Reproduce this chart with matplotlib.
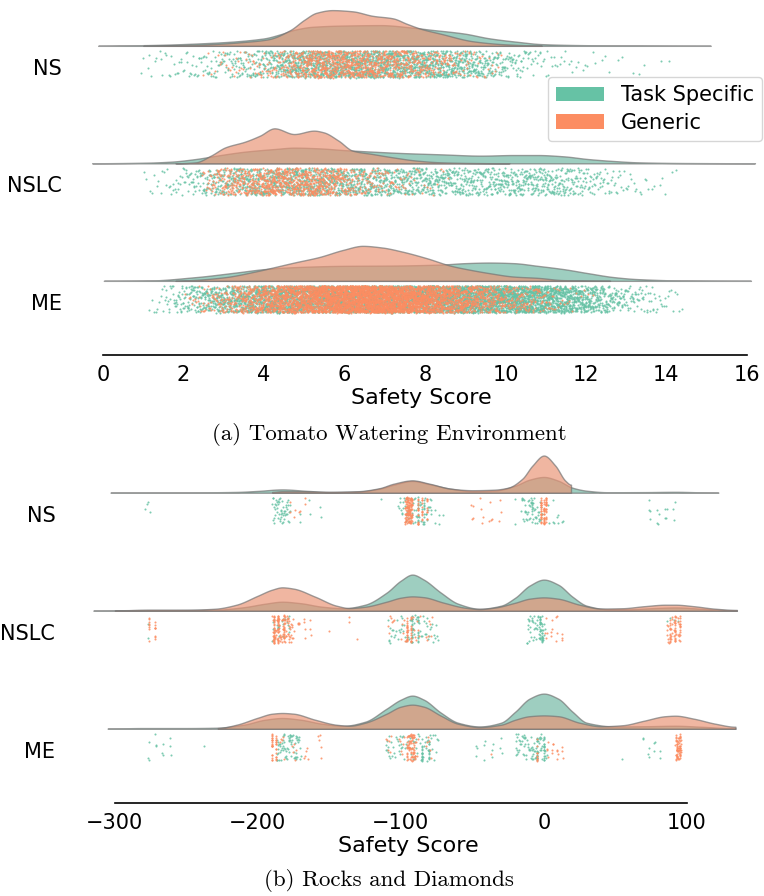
import numpy as np
import matplotlib
matplotlib.use("Agg")
import matplotlib.pyplot as plt
from matplotlib.patches import Patch

GROUPS = ["NS", "NSLC", "ME"]
HUES = ["Task Specific", "Generic"]
POINT_COLORS = ["#66c2a5", "#fc8d62"]
VIOLIN_COLORS = ["#70b7a2", "#e99475"]

# ---- (a) Tomato Watering: violin outlines, (score, height)
tomato_ns_task = [(-0.12, 0.1), (1.05, 0.7), (2.7, 3), (3.98, 7.3), (4.42, 11.7), (4.75, 16),
                  (5.2, 19), (6.0, 20.3), (6.9, 20.7), (7.67, 18.3), (8.1, 16.3), (8.97, 12.3),
                  (9.6, 7.5), (10.3, 4), (10.9, 1.7), (11.9, 0.7), (13.0, 0.3), (15.1, 0.1)]
tomato_ns_gen = [(1.0, 0.05), (1.6, 0.3), (2.7, 1.7), (3.55, 4), (4.1, 6.5), (4.65, 15.7),
                 (5.0, 26), (5.3, 33), (5.7, 35.7), (6.2, 34.5), (6.7, 30), (7.2, 27.5),
                 (7.55, 22), (7.9, 17), (8.4, 12), (9.2, 4.5), (10.0, 1.5), (10.9, 0.3)]
tomato_nslc_task = [(-0.27, 0.1), (1.1, 0.7), (1.7, 1.7), (2.3, 4.3), (2.92, 8.3), (3.53, 11.7),
                    (4.26, 14.3), (4.75, 15.7), (5.36, 15), (5.97, 13.3), (6.7, 11.7), (7.43, 10.3),
                    (8.4, 9), (9.4, 7.7), (10.2, 8.3), (10.8, 8.3), (11.45, 7), (12.05, 4.3),
                    (12.7, 2.3), (13.3, 1), (14.5, 0.3), (16.2, 0.1)]
tomato_nslc_gen = [(1.8, 0.05), (2.3, 1), (2.68, 7.7), (3.04, 16), (3.53, 21.7), (3.9, 27.7),
                   (4.26, 35), (4.75, 29.3), (5.24, 32.7), (5.48, 31), (5.85, 22.7), (6.2, 12.7),
                   (6.7, 9.3), (7.2, 6), (7.8, 2.7), (8.4, 1), (9.2, 0.3), (10.1, 0.05)]
tomato_me_task = [(0.02, 0.1), (1.1, 0.3), (2.3, 3.7), (3.3, 8.3), (4.0, 11.7), (4.75, 13.7),
                  (5.97, 15), (7.2, 15.3), (8.4, 16.3), (9.0, 17.7), (9.6, 18.3), (10.2, 17.7),
                  (10.8, 15), (11.45, 11.7), (12.05, 7.7), (12.7, 3.7), (13.3, 1.7), (14.5, 0.3),
                  (16.1, 0.1)]
tomato_me_gen = [(1.8, 0.05), (2.3, 1), (3.04, 3.7), (3.78, 9.3), (4.26, 13.7), (4.75, 18.3),
                 (5.36, 23.7), (5.97, 31), (6.45, 35), (6.94, 33.3), (7.43, 29.3), (8.04, 22.7),
                 (8.65, 15), (9.13, 11), (9.6, 7.7), (10.2, 4.3), (10.8, 3), (11.45, 0.7), (12.6, 0.05)]
# number of episodes per strip and the observed score range (min, max)
tomato_counts = {"NS": (2000, 1000), "NSLC": (2000, 900), "ME": (6000, 4500)}
tomato_ranges = {"NS": ((0.8, 14.2), (2.4, 9.9)), "NSLC": ((0.9, 14.3), (2.4, 8.6)),
                 "ME": ((1.0, 14.4), (1.5, 12.2))}

# ---- (b) Rocks and Diamonds: violin outlines, (score, height)
rocks_ns_task = [(-303, 0.2), (-250, 0.3), (-215, 0.8), (-200, 1.8), (-183, 3.3), (-165, 1.8),
                 (-150, 0.8), (-130, 1.2), (-115, 4), (-105, 8), (-92, 11.7), (-80, 8.5),
                 (-65, 4), (-50, 1.5), (-35, 2), (-20, 7), (-10, 13), (0, 15.7), (10, 12),
                 (20, 5), (30, 2), (45, 0.5), (70, 0.6), (92, 0.9), (110, 0.4), (122, 0.2)]
rocks_ns_gen = [(-190, 0.8), (-183, 1.5), (-170, 1.5), (-150, 0.8), (-130, 1.5), (-115, 4.5),
                (-105, 9), (-92, 12.3), (-80, 9), (-65, 4), (-50, 2.5), (-35, 3), (-25, 5),
                (-15, 14), (-8, 27), (0, 37), (8, 27), (15, 12), (19, 8)]
rocks_nslc_task = [(-315, 0.2), (-280, 0.7), (-260, 0.7), (-230, 1), (-210, 3.5), (-195, 7),
                   (-183, 9), (-170, 7.5), (-155, 4), (-140, 2.5), (-125, 6), (-110, 18),
                   (-100, 30), (-92, 36), (-84, 31), (-72, 18), (-60, 7), (-45, 2), (-30, 5),
                   (-20, 13), (-10, 25), (0, 31), (10, 26), (20, 14), (30, 5), (45, 1.5),
                   (60, 1.5), (75, 2.5), (92, 3.3), (110, 2), (125, 0.7), (135, 0.3)]
rocks_nslc_gen = [(-300, 0.3), (-275, 1), (-250, 1), (-230, 2), (-215, 6), (-200, 15), (-190, 21),
                  (-183, 23.3), (-175, 22), (-160, 14), (-145, 5), (-136, 2.7), (-125, 4),
                  (-110, 9), (-100, 13), (-92, 14.3), (-84, 13.5), (-70, 8), (-55, 3), (-45, 1.7),
                  (-35, 3), (-20, 8), (-10, 12), (0, 13.3), (10, 12), (25, 6), (40, 2.2),
                  (55, 2.5), (70, 4.5), (85, 6), (92, 6), (105, 4.5), (120, 2), (135, 0.8)]
rocks_me_task = [(-305, 0.3), (-280, 0.7), (-250, 0.7), (-230, 1), (-210, 4), (-195, 9),
                 (-183, 10.7), (-170, 9), (-155, 5), (-140, 3), (-125, 7), (-110, 20), (-100, 29),
                 (-92, 33), (-84, 29), (-72, 16), (-60, 6), (-45, 2.3), (-30, 6), (-20, 17),
                 (-10, 30), (0, 35), (10, 30), (20, 17), (30, 6), (50, 2.3), (70, 2.5), (92, 3),
                 (110, 2), (134, 0.5)]
rocks_me_gen = [(-228, 0.7), (-215, 4), (-200, 11), (-190, 15), (-183, 15.7), (-175, 15),
                (-160, 9), (-145, 4), (-136, 3), (-125, 6), (-110, 15), (-100, 22), (-92, 24),
                (-84, 22), (-72, 13), (-60, 5), (-45, 1.7), (-30, 4), (-20, 9), (-10, 12.5),
                (0, 13.3), (10, 12.5), (25, 6), (40, 2.5), (55, 3.5), (70, 8), (85, 12.5),
                (92, 13), (105, 10), (120, 5), (134, 2)]

# rocks scores seen in the strips: (low, high, count)
rocks_ns_task_pts = [(-279, -274, 4), (-190, -178, 50), (-178, -150, 8), (-114, -114, 1),
                     (-102, -79, 55), (-88, -88, 10), (-84, -84, 8), (-79, -68, 7),
                     (-21, -19, 2), (-16, -1, 50), (-8, -8, 8), (3, 16, 10), (73, 96, 15)]
rocks_ns_gen_pts = [(-178, -164, 8), (-97, -92, 120), (-88, -88, 15), (-85, -85, 12),
                    (-82, -82, 10), (-51, -25, 15), (-2, -2, 25), (0, 0, 25), (1.5, 1.5, 20)]
rocks_nslc_task_pts = [(-277, -277, 2), (-190, -176, 25), (-109, -74, 60), (-92, -92, 15),
                       (-88, -88, 12), (-12, 1, 45), (-3, -3, 15), (-1, -1, 12), (86, 96, 4)]
rocks_nslc_gen_pts = [(-276, -276, 8), (-272, -272, 8), (-190, -176, 80), (-189, -189, 20),
                      (-186, -186, 20), (-182, -182, 15), (-176, -160, 15), (-150, -150, 1),
                      (-136, -136, 2), (-131, -131, 1), (-109, -74, 30), (-96, -96, 20),
                      (-93, -93, 15), (1, 16, 15), (86, 96, 30), (88, 88, 12), (92, 92, 15),
                      (95, 95, 12)]
rocks_me_task_pts = [(-277, -257, 12), (-238, -238, 1), (-187, -170, 70), (-111, -74, 70),
                     (-85, -85, 15), (-80, -80, 12), (-48, -25, 12), (-20, 2, 70), (-5, -5, 15),
                     (0, 0, 15), (55, 55, 1), (69, 85, 10)]
rocks_me_gen_pts = [(-190, -190, 20), (-187, -187, 15), (-185, -150, 20), (-96, -90, 70),
                    (-111, -74, 25), (-37, -37, 1), (-5, -5, 10), (2, 16, 15), (92, 96, 45),
                    (93, 93, 12), (95, 95, 12)]

A1 = 0.7548776662  # low-discrepancy spread for scores inside a bin
BASE = -0.18       # violin baseline relative to category
STRIP = (-0.14, 0.09)
HSCALE = 1 / 117.5


def pchip(x, y, xn):
    x = np.asarray(x, float)
    y = np.asarray(y, float)
    h = np.diff(x)
    d = np.diff(y) / h
    m = np.zeros_like(y)
    for k in range(1, len(x) - 1):
        if d[k - 1] * d[k] > 0:
            w1, w2 = 2 * h[k] + h[k - 1], h[k] + 2 * h[k - 1]
            m[k] = (w1 + w2) / (w1 / d[k - 1] + w2 / d[k])
    i = np.clip(np.searchsorted(x, xn) - 1, 0, len(h) - 1)
    t = (xn - x[i]) / h[i]
    return ((2 * t**3 - 3 * t**2 + 1) * y[i] + (t**3 - 2 * t**2 + t) * h[i] * m[i]
            + (-2 * t**3 + 3 * t**2) * y[i + 1] + (t**3 - t**2) * h[i] * m[i + 1])


def curve(pairs):
    x, d = zip(*pairs)
    xf = np.linspace(x[0], x[-1], 600)
    return xf, np.clip(pchip(x, d, xf), 0, None)


def jitter(n, seed=0.0):
    # hash-style jitter of the strip positions (positions only, no data)
    k = np.arange(n) + seed
    f = np.abs(np.sin(k * 12.9898 + 78.233) * 43758.5453) % 1.0
    return STRIP[0] + (STRIP[1] - STRIP[0]) * f


def draw_violin(ax, pairs, c, color):
    xf, df = curve(pairs)
    base = c + BASE
    ax.fill_between(xf, base, base - df * HSCALE, facecolor=color, alpha=0.68,
                    edgecolor="0.45", linewidth=1.0, zorder=2)


def seg_values(segs):
    vals = []
    for lo, hi, n in segs:
        k = np.arange(n)
        vals.append(lo + (hi - lo) * ((0.5 + k * A1) % 1.0))
    return np.concatenate(vals)


fig = plt.figure(figsize=(7.64, 8.96), dpi=100)
W, H = 764, 896
ax_a = fig.add_axes([78.9 / W, 1 - 355 / H, (763 - 78.9) / W, 355 / H])
ax_b = fig.add_axes([72 / W, 1 - 803 / H, 672 / W, 353 / H])

# (a)
tomato = {"NS": (tomato_ns_task, tomato_ns_gen), "NSLC": (tomato_nslc_task, tomato_nslc_gen),
          "ME": (tomato_me_task, tomato_me_gen)}
for c, g in enumerate(GROUPS):
    for h in range(2):
        draw_violin(ax_a, tomato[g][h], c, VIOLIN_COLORS[h])
for h in range(2):
    for c, g in enumerate(GROUPS):
        n = tomato_counts[g][h]
        lo, hi = tomato_ranges[g][h]
        xf, df = curve(tomato[g][h])
        keep = (xf >= lo) & (xf <= hi)
        xf, df = xf[keep], df[keep]
        cdf = np.cumsum(df)
        cdf = (cdf - cdf[0]) / (cdf[-1] - cdf[0])
        u = (0.5 + np.arange(n) * A1) % 1.0
        vals = np.interp(u, cdf, xf)
        ax_a.scatter(vals, c + jitter(n, 1000 * c + 7 * h), s=2.2, color=POINT_COLORS[h],
                     linewidths=0, alpha=0.85, zorder=3)

# (b)
rocks = {"NS": (rocks_ns_task, rocks_ns_gen), "NSLC": (rocks_nslc_task, rocks_nslc_gen),
         "ME": (rocks_me_task, rocks_me_gen)}
rocks_pts = {"NS": (rocks_ns_task_pts, rocks_ns_gen_pts),
             "NSLC": (rocks_nslc_task_pts, rocks_nslc_gen_pts),
             "ME": (rocks_me_task_pts, rocks_me_gen_pts)}
for c, g in enumerate(GROUPS):
    for h in range(2):
        draw_violin(ax_b, rocks[g][h], c, VIOLIN_COLORS[h])
for h in range(2):
    for c, g in enumerate(GROUPS):
        vals = seg_values(rocks_pts[g][h])
        ax_b.scatter(vals, c + jitter(len(vals), 500 * c + 3 * h), s=2.2, color=POINT_COLORS[h],
                     linewidths=0, alpha=0.85, zorder=3)

for ax, xlim, ylim, ticks in [(ax_a, (-0.6, 16.4), (2.451, -0.57), range(0, 17, 2)),
                              (ax_b, (-330, 140), (2.449, -0.542), range(-300, 101, 100))]:
    ax.set_xlim(*xlim)
    ax.set_ylim(*ylim)
    ax.set_xticks(list(ticks))
    ax.set_yticks([0, 1, 2], GROUPS)
    ax.tick_params(axis="both", length=0, labelsize=15)
    ax.tick_params(axis="x", pad=7)
    ax.tick_params(axis="y", pad=12)
    for s in ["top", "right", "left"]:
        ax.spines[s].set_visible(False)
    ax.spines["bottom"].set_bounds(ticks[0], ticks[-1])
    ax.spines["bottom"].set_linewidth(1.2)
    ax.set_xlabel("Safety Score", fontsize=16, labelpad=2)
    ax.patch.set_visible(False)

handles = [Patch(facecolor=POINT_COLORS[h], label=HUES[h]) for h in range(2)]
fig.legend(handles=handles, loc="upper right", bbox_to_anchor=(762 / W, 1 - 77 / H),
           fontsize=15, handlelength=2.3, labelspacing=0.35, borderaxespad=0)

fig.text(389 / W, 1 - 435 / H, "(a) Tomato Watering Environment",
         ha="center", va="center", fontsize=16.5, family="cmr10")
fig.text(389 / W, 1 - 880 / H, "(b) Rocks and Diamonds",
         ha="center", va="center", fontsize=16.5, family="cmr10")

fig.savefig("out.png", dpi=100)
